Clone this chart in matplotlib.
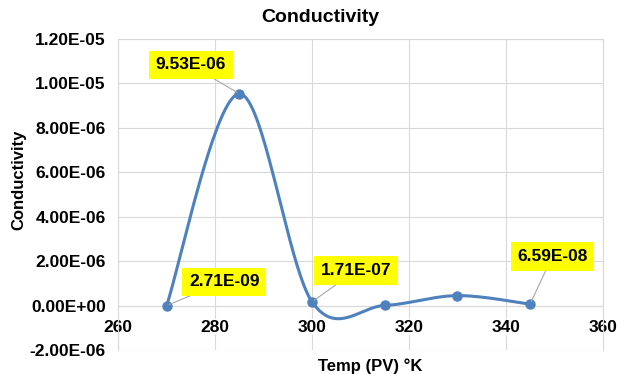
import numpy as np
import matplotlib.pyplot as plt

temp = [270, 285, 300, 315, 330, 345]
cond = [2.71e-09, 9.53e-06, 1.71e-07, 1.0e-08, 4.5e-07, 6.59e-08]
labels = {0: '2.71E-09', 1: '9.53E-06', 2: '1.71E-07', 5: '6.59E-08'}
label_pos = {0: (281.9, 1.08e-06), 1: (275.0, 1.083e-05), 2: (309.1, 1.58e-06), 5: (349.6, 2.21e-06)}
yticks = np.arange(-2e-06, 1.21e-05, 2e-06)


def smooth(x, y, n=40):
    # excel style smoothing (catmull-rom through the points)
    x = np.asarray(x, float)
    y = np.asarray(y, float)
    px = np.concatenate([[x[0]], x, [x[-1]]])
    py = np.concatenate([[y[0]], y, [y[-1]]])
    xs, ys = [], []
    t = np.linspace(0, 1, n)
    for i in range(1, len(px) - 2):
        p0, p1, p2, p3 = [np.array([px[j], py[j]]) for j in (i - 1, i, i + 1, i + 2)]
        c1 = p1 + (p2 - p0) / 6
        c2 = p2 - (p3 - p1) / 6
        b = ((1 - t) ** 3)[:, None] * p1 + (3 * (1 - t) ** 2 * t)[:, None] * c1 \
            + (3 * (1 - t) * t ** 2)[:, None] * c2 + (t ** 3)[:, None] * p2
        xs.extend(b[:, 0])
        ys.extend(b[:, 1])
    return xs, ys


plt.rcParams['font.family'] = ['Liberation Sans', 'DejaVu Sans']

fig = plt.figure(figsize=(6.22, 3.74), dpi=100)
ax = fig.add_axes([0.19, 0.064, 0.779, 0.832])

sx, sy = smooth(temp, cond)
ax.plot(sx, sy, color='#4F81BD', lw=2.2, zorder=3)
ax.plot(temp, cond, 'o', color='#4F81BD', ms=6.5, zorder=4)

for i, txt in labels.items():
    ax.annotate(txt, xy=(temp[i], cond[i]), xytext=label_pos[i],
                ha='center', va='center', fontsize=12.5, fontweight='bold',
                bbox=dict(boxstyle='square,pad=0.38', fc='#FFFF00', ec='none'),
                arrowprops=dict(arrowstyle='-', color='#A6A6A6', lw=0.8,
                                shrinkA=0, shrinkB=2), zorder=5)

ax.set_xlim(260, 360)
ax.set_ylim(-2e-06, 1.2e-05)
ax.set_xticks(range(260, 361, 20))
ax.set_yticks(yticks)
ax.set_yticklabels([f'{v:.2E}' for v in yticks])
ax.grid(True, color='#D9D9D9', lw=0.8)
ax.set_axisbelow(True)

for s in ax.spines.values():
    s.set_color('#D9D9D9')
ax.spines['bottom'].set_position(('data', 0))
ax.tick_params(axis='y', length=0, labelsize=12.5, pad=9)
ax.tick_params(axis='x', length=0, labelsize=12.5, pad=10)
for lab in ax.get_xticklabels() + ax.get_yticklabels():
    lab.set_fontweight('bold')
for lab in ax.get_xticklabels():
    lab.set_bbox(dict(fc='white', ec='none', pad=0.5))

fig.text(0.515, 0.952, 'Conductivity', ha='center', va='center', fontsize=14, fontweight='bold')
fig.text(0.595, 0.0, 'Temp (PV) °K', ha='center', va='bottom', fontsize=12, fontweight='bold')
fig.text(0.03, 0.52, 'Conductivity', ha='center', va='center', rotation=90,
         fontsize=12, fontweight='bold')

fig.savefig('out.png')
